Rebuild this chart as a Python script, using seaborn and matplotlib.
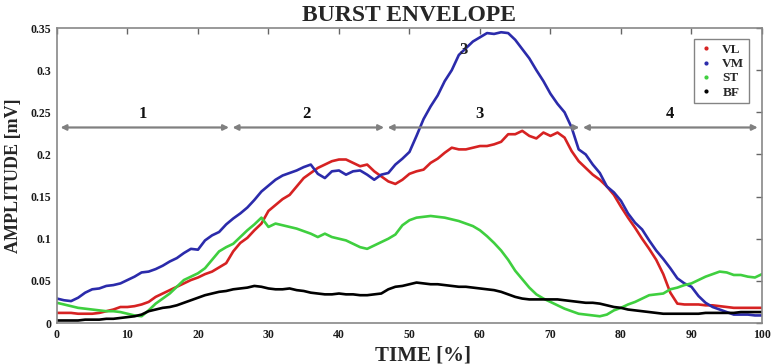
import matplotlib

matplotlib.use("Agg")

import matplotlib.pyplot as plt
import numpy as np
import pandas as pd
import seaborn as sns
from matplotlib.lines import Line2D

# time axis, percent of cycle (1 % steps)
TIME = list(range(0, 101))

VL = [
    0.012, 0.012, 0.012, 0.011, 0.011, 0.011, 0.012, 0.014, 0.016, 0.019,
    0.019, 0.020, 0.022, 0.025, 0.031, 0.035, 0.039, 0.043, 0.047, 0.051,
    0.054, 0.058, 0.061, 0.066, 0.071, 0.085, 0.095, 0.101, 0.110, 0.118,
    0.133, 0.140, 0.147, 0.152, 0.162, 0.172, 0.178, 0.184, 0.188, 0.192,
    0.194, 0.194, 0.190, 0.186, 0.188, 0.180, 0.174, 0.168, 0.165, 0.170,
    0.177, 0.180, 0.182, 0.190, 0.195, 0.202, 0.208, 0.206, 0.206, 0.208,
    0.210, 0.210, 0.212, 0.215, 0.224, 0.224, 0.228, 0.222, 0.219, 0.226,
    0.222, 0.226, 0.220, 0.204, 0.192, 0.184, 0.176, 0.170, 0.162, 0.152,
    0.138, 0.125, 0.113, 0.100, 0.088, 0.075, 0.058, 0.036, 0.023, 0.022,
    0.022, 0.022, 0.021, 0.021, 0.020, 0.019, 0.018, 0.018, 0.018, 0.018,
    0.018,
]
VM = [
    0.029, 0.027, 0.026, 0.030, 0.036, 0.040, 0.041, 0.044, 0.045, 0.047,
    0.051, 0.055, 0.060, 0.061, 0.064, 0.068, 0.073, 0.077, 0.083, 0.088,
    0.087, 0.098, 0.104, 0.108, 0.117, 0.124, 0.130, 0.137, 0.146, 0.156,
    0.163, 0.170, 0.175, 0.178, 0.181, 0.185, 0.188, 0.177, 0.172, 0.180,
    0.181, 0.176, 0.180, 0.181, 0.176, 0.170, 0.176, 0.178, 0.188, 0.195,
    0.203, 0.222, 0.242, 0.257, 0.270, 0.287, 0.300, 0.318, 0.326, 0.334,
    0.339, 0.344, 0.343, 0.345, 0.344, 0.336, 0.325, 0.314, 0.300, 0.287,
    0.272, 0.260, 0.250, 0.232, 0.206, 0.200, 0.188, 0.178, 0.162, 0.155,
    0.145, 0.130, 0.119, 0.111, 0.098, 0.086, 0.076, 0.065, 0.053, 0.047,
    0.043, 0.032, 0.024, 0.019, 0.016, 0.013, 0.010, 0.010, 0.010, 0.009,
    0.009,
]
ST = [
    0.024, 0.022, 0.020, 0.018, 0.017, 0.016, 0.015, 0.014, 0.014, 0.013,
    0.011, 0.009, 0.008, 0.015, 0.023, 0.029, 0.035, 0.043, 0.051, 0.055,
    0.059, 0.065, 0.075, 0.085, 0.090, 0.094, 0.102, 0.110, 0.117, 0.125,
    0.114, 0.118, 0.116, 0.114, 0.112, 0.109, 0.106, 0.102, 0.106, 0.102,
    0.100, 0.098, 0.094, 0.090, 0.088, 0.092, 0.096, 0.100, 0.105, 0.116,
    0.122, 0.125, 0.126, 0.127, 0.126, 0.125, 0.123, 0.121, 0.118, 0.115,
    0.110, 0.103, 0.095, 0.086, 0.075, 0.062, 0.052, 0.042, 0.034, 0.029,
    0.025, 0.021, 0.017, 0.014, 0.011, 0.010, 0.009, 0.008, 0.010, 0.015,
    0.018, 0.022, 0.025, 0.029, 0.033, 0.034, 0.035, 0.040, 0.042, 0.045,
    0.047, 0.051, 0.055, 0.058, 0.061, 0.060, 0.057, 0.057, 0.055, 0.054,
    0.058,
]
BF = [
    0.003, 0.003, 0.003, 0.003, 0.004, 0.004, 0.004, 0.005, 0.005, 0.006,
    0.007, 0.008, 0.010, 0.014, 0.016, 0.018, 0.019, 0.021, 0.024, 0.027,
    0.030, 0.033, 0.035, 0.037, 0.038, 0.040, 0.041, 0.042, 0.044, 0.043,
    0.041, 0.040, 0.040, 0.041, 0.039, 0.038, 0.036, 0.035, 0.034, 0.034,
    0.035, 0.034, 0.034, 0.033, 0.033, 0.034, 0.035, 0.040, 0.043, 0.044,
    0.046, 0.048, 0.047, 0.046, 0.046, 0.045, 0.044, 0.043, 0.043, 0.042,
    0.041, 0.040, 0.039, 0.037, 0.034, 0.031, 0.029, 0.028, 0.028, 0.028,
    0.028, 0.028, 0.027, 0.026, 0.025, 0.024, 0.024, 0.023, 0.021, 0.019,
    0.018, 0.016, 0.015, 0.014, 0.013, 0.012, 0.011, 0.011, 0.011, 0.011,
    0.011, 0.011, 0.012, 0.012, 0.012, 0.012, 0.012, 0.013, 0.013, 0.013,
    0.013,
]

MUSCLES = ["VL", "VM", "ST", "BF"]
COLORS = ["#d62222", "#2b2bab", "#3fcf3f", "#000000"]

# phase arrows and their labels
PHASE_START = [0.5, 24.9, 46.9, 74.6]
PHASE_END = [24.4, 46.4, 74.1, 99.4]
PHASE_LABEL = ["1", "2", "3", "4"]
PHASE_LABEL_X = [12.2, 35.4, 60.0, 87.0]
PHASE_Y = 0.232

SERIF = ["Liberation Serif", "DejaVu Serif"]


def main() -> None:
    df = pd.DataFrame({"time": TIME, "VL": VL, "VM": VM, "ST": ST, "BF": BF})
    long_df = df.melt(id_vars="time", var_name="muscle", value_name="amp")

    sns.set_theme(style="white")
    plt.rcParams["font.family"] = SERIF
    plt.rcParams["font.weight"] = "bold"

    fig = plt.figure(figsize=(7.72, 3.64), dpi=100)
    ax = fig.add_axes([0.0738, 0.1126, 0.9132, 0.8104])

    sns.lineplot(
        data=long_df,
        x="time",
        y="amp",
        hue="muscle",
        hue_order=MUSCLES,
        palette=COLORS,
        linewidth=1.9,
        legend=False,
        ax=ax,
    )

    for x0, x1 in zip(PHASE_START, PHASE_END):
        ax.annotate(
            "",
            xy=(x1, PHASE_Y),
            xytext=(x0, PHASE_Y),
            arrowprops=dict(arrowstyle="<|-|>", color="#808080", lw=1.6, mutation_scale=8,
                            shrinkA=0, shrinkB=0),
        )
    for lab, lx in zip(PHASE_LABEL, PHASE_LABEL_X):
        ax.text(lx, PHASE_Y + 0.006, lab, ha="center", va="bottom", fontsize=12,
                fontweight="bold", color="#111111")
    # stray label left on the VM peak in the original figure
    ax.text(57.6, 0.324, "3", ha="center", va="center", fontsize=12,
            fontweight="bold", color="#222222")

    ax.set_xlim(0, 100)
    ax.set_ylim(0, 0.35)
    ax.set_xticks(np.arange(0, 101, 10))
    ax.set_yticks(np.arange(0, 0.351, 0.05))
    ax.set_yticklabels(["0", "0.05", "0.1", "0.15", "0.2", "0.25", "0.3", "0.35"])
    ax.tick_params(direction="in", length=4, width=1, color="#666666", top=True, right=True,
                   labelsize=8.5, labelcolor="#1a1a1a", pad=4)
    for lab in ax.get_xticklabels() + ax.get_yticklabels():
        lab.set_fontweight("bold")
    for sp in ax.spines.values():
        sp.set_color("#888888")
        sp.set_linewidth(1.2)

    ax.set_xlabel("TIME [%]", fontsize=15, fontweight="bold")
    ax.xaxis.set_label_coords(0.519, -0.075)
    ax.set_ylabel("AMPLITUDE [mV]", fontsize=13, fontweight="bold", labelpad=6)
    ax.set_title("BURST ENVELOPE", fontsize=17, fontweight="bold", pad=5)

    handles = [
        Line2D([0], [0], marker="o", linestyle="none", color=c, markersize=2, label=m)
        for m, c in zip(MUSCLES, COLORS)
    ]
    leg = ax.legend(handles=handles, loc="upper right", bbox_to_anchor=(0.991, 0.985),
                    frameon=True, fancybox=False, handlelength=1.2,
                    handletextpad=0.6, labelspacing=0.15, borderpad=0.35,
                    prop={"weight": "bold", "size": 9.5})
    leg.get_frame().set_edgecolor("#666666")
    leg.get_frame().set_linewidth(1.0)

    fig.savefig("out.png", dpi=100, facecolor="white")
    plt.close(fig)


if __name__ == "__main__":
    main()
